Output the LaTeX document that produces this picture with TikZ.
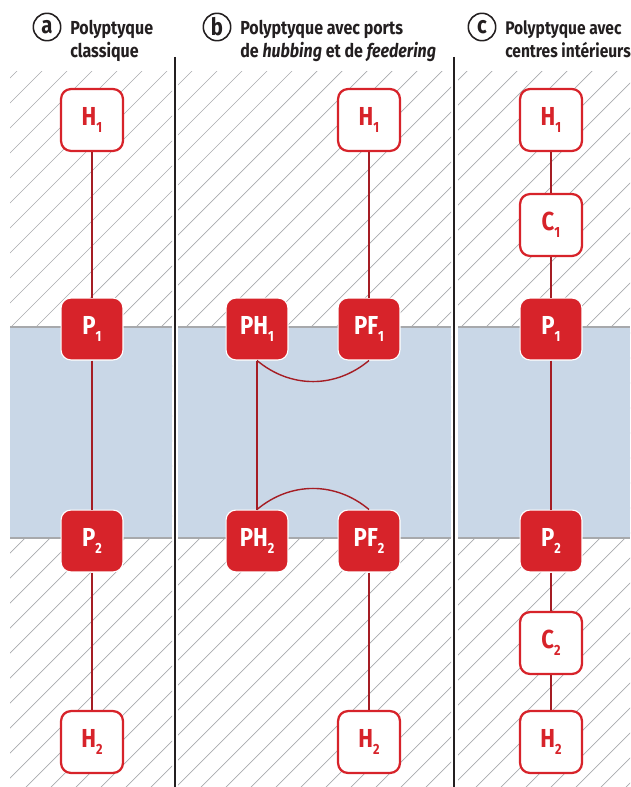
\documentclass[tikz,border=0pt]{standalone}
\usepackage{fontspec}
\usepackage{xcolor}
\usepackage{tikz}
\usetikzlibrary{positioning}

\newfontfamily\figfont{Fira Sans}[FakeStretch=0.85]
\definecolor{hubred}{HTML}{D7232A}
\definecolor{linkred}{HTML}{A51D24}
\definecolor{bandblue}{HTML}{C9D7E7}
\definecolor{bandgray}{HTML}{A7A9AC}
\definecolor{hatchgray}{HTML}{A8AAAD}
\definecolor{titlegray}{HTML}{231F20}
\newcommand{\nodesub}[1]{\raisebox{-5pt}{\fontsize{10.5}{10.5}\selectfont #1}}

\begin{document}
\begin{tikzpicture}[
    x=0.025cm, y=-0.025cm,
    every node/.style={font=\figfont\bfseries},
    hubout/.style={draw=hubred, fill=white, line width=1.6pt, rounded corners=7pt,
        minimum width=44pt, minimum height=44pt, inner sep=0pt, text=hubred,
        font=\figfont\bfseries\fontsize{18.5}{20}\selectfont},
    hubfill/.style={hubout, fill=hubred, draw=white, line width=0.8pt, text=white},
    link/.style={draw=linkred, line width=1.4pt},
    arcline/.style={draw=linkred, line width=1pt},
    hatch/.style={draw=hatchgray, line width=0.5pt},
    letter/.style={circle, draw=titlegray, line width=1.1pt, minimum size=19.5pt, inner sep=0pt,
        text=titlegray, font=\figfont\bfseries\fontsize{17}{17}\selectfont},
    title/.style={anchor=base west, align=left, inner sep=0pt, text=titlegray,
        font=\figfont\bfseries\fontsize{13.4}{16.4}\selectfont},
]
    \useasboundingbox (0,0) rectangle (630,787);

    % hatched ground, one clip per panel
    \foreach \xa/\xb in {10/172,178/451,458/630} {
        \begin{scope}
            \clip (\xa,72) rectangle (\xb,787);
            \foreach \k in {0,...,57}
                \draw[hatch] ({13+25*\k},0) -- ++(-800,800);
        \end{scope}
        % blue band
        \fill[bandblue] (\xa,327) rectangle (\xb,538);
        \draw[bandgray, line width=1pt] (\xa,327) -- (\xb,327);
        \draw[bandgray, line width=1pt] (\xa,538) -- (\xb,538);
    }

    % panel dividers
    \draw[titlegray, line width=1.1pt] (175,57) -- (175,787);
    \draw[titlegray, line width=1.1pt] (454,57) -- (454,787);

    % headers (anchor sits on the second line)
    \node[letter] (la) at (47,27) {a};
    \node[title] (ta) at (70,58) {Polyptyque\\classique};
    \node[letter] (lb) at (217,27) {b};
    \node[title] (tb) at (240,58) {Polyptyque avec ports\\de \textit{hubbing} et de \textit{feedering}};
    \node[letter] (lc) at (482,27) {c};
    \node[title, font=\figfont\bfseries\fontsize{13}{16.4}\selectfont] (tc) at (505,58) {Polyptyque avec\\centres intérieurs};

    % (a) classic
    \node[hubout] (ha1) at (92,120) {H\nodesub{1}};
    \node[hubfill] (pa1) at (92,329) {P\nodesub{1}};
    \node[hubfill] (pa2) at (92,541) {P\nodesub{2}};
    \node[hubout] (ha2) at (92,742) {H\nodesub{2}};
    \draw[link] (ha1) -- (pa1);
    \draw[link] (pa1) -- (pa2);
    \draw[link] (pa2) -- (ha2);

    % (b) hubbing and feedering ports
    \node[hubout] (hb1) at (369,120) {H\nodesub{1}};
    \node[hubfill] (phb1) at (257,329) {PH\nodesub{1}};
    \node[hubfill] (pfb1) at (369,329) {PF\nodesub{1}};
    \node[hubfill] (phb2) at (257,541) {PH\nodesub{2}};
    \node[hubfill] (pfb2) at (369,541) {PF\nodesub{2}};
    \node[hubout] (hb2) at (369,742) {H\nodesub{2}};
    \draw[link] (hb1) -- (pfb1);
    \draw[link] (phb1) -- (phb2);
    \draw[link] (pfb2) -- (hb2);
    \draw[arcline] (phb1.south) to[out=-40,in=-140] (pfb1.south);
    \draw[arcline] (phb2.north) to[out=40,in=140] (pfb2.north);

    % (c) inner centres
    \node[hubout] (hc1) at (551,120) {H\nodesub{1}};
    \node[hubout] (cc1) at (551,225) {C\nodesub{1}};
    \node[hubfill] (pc1) at (551,329) {P\nodesub{1}};
    \node[hubfill] (pc2) at (551,541) {P\nodesub{2}};
    \node[hubout] (cc2) at (551,643) {C\nodesub{2}};
    \node[hubout] (hc2) at (551,742) {H\nodesub{2}};
    \draw[link] (hc1) -- (cc1);
    \draw[link] (cc1) -- (pc1);
    \draw[link] (pc1) -- (pc2);
    \draw[link] (pc2) -- (cc2);
    \draw[link] (cc2) -- (hc2);
\end{tikzpicture}
\end{document}
